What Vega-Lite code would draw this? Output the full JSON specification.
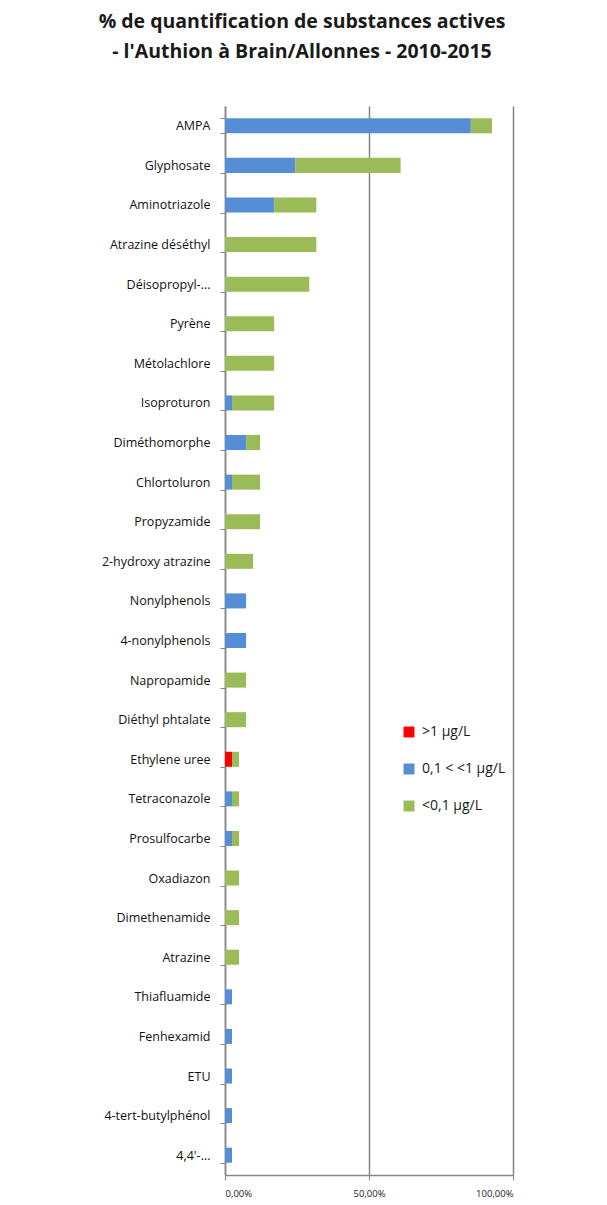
{
  "$schema": "https://vega.github.io/schema/vega-lite/v6.json",
  "autosize": "none",
  "width": 288,
  "height": 1069,
  "padding": {"left": 225, "top": 106, "right": 94, "bottom": 30},
  "background": "white",
  "title": {
    "text": ["% de quantification de substances actives", "- l'Authion à Brain/Allonnes - 2010-2015"],
    "font": "Open Sans",
    "fontSize": 19.5,
    "fontWeight": "bold",
    "color": "#1a1a1a",
    "anchor": "middle",
    "dx": -67,
    "offset": 38,
    "lineHeight": 30
  },
  "data": {
    "values": [
      {"substance": "AMPA", "classe": "0,1 < <1 µg/L", "ord": 2, "pct": 85.37},
      {"substance": "AMPA", "classe": "<0,1 µg/L", "ord": 3, "pct": 7.32},
      {"substance": "Glyphosate", "classe": "0,1 < <1 µg/L", "ord": 2, "pct": 24.39},
      {"substance": "Glyphosate", "classe": "<0,1 µg/L", "ord": 3, "pct": 36.59},
      {"substance": "Aminotriazole", "classe": "0,1 < <1 µg/L", "ord": 2, "pct": 17.07},
      {"substance": "Aminotriazole", "classe": "<0,1 µg/L", "ord": 3, "pct": 14.63},
      {"substance": "Atrazine déséthyl", "classe": "<0,1 µg/L", "ord": 3, "pct": 31.71},
      {"substance": "Déisopropyl-...", "classe": "<0,1 µg/L", "ord": 3, "pct": 29.27},
      {"substance": "Pyrène", "classe": "<0,1 µg/L", "ord": 3, "pct": 17.07},
      {"substance": "Métolachlore", "classe": "<0,1 µg/L", "ord": 3, "pct": 17.07},
      {"substance": "Isoproturon", "classe": "0,1 < <1 µg/L", "ord": 2, "pct": 2.44},
      {"substance": "Isoproturon", "classe": "<0,1 µg/L", "ord": 3, "pct": 14.63},
      {"substance": "Diméthomorphe", "classe": "0,1 < <1 µg/L", "ord": 2, "pct": 7.32},
      {"substance": "Diméthomorphe", "classe": "<0,1 µg/L", "ord": 3, "pct": 4.88},
      {"substance": "Chlortoluron", "classe": "0,1 < <1 µg/L", "ord": 2, "pct": 2.44},
      {"substance": "Chlortoluron", "classe": "<0,1 µg/L", "ord": 3, "pct": 9.76},
      {"substance": "Propyzamide", "classe": "<0,1 µg/L", "ord": 3, "pct": 12.2},
      {"substance": "2-hydroxy atrazine", "classe": "<0,1 µg/L", "ord": 3, "pct": 9.76},
      {"substance": "Nonylphenols", "classe": "0,1 < <1 µg/L", "ord": 2, "pct": 7.32},
      {"substance": "4-nonylphenols", "classe": "0,1 < <1 µg/L", "ord": 2, "pct": 7.32},
      {"substance": "Napropamide", "classe": "<0,1 µg/L", "ord": 3, "pct": 7.32},
      {"substance": "Diéthyl phtalate", "classe": "<0,1 µg/L", "ord": 3, "pct": 7.32},
      {"substance": "Ethylene uree", "classe": ">1 µg/L", "ord": 1, "pct": 2.44},
      {"substance": "Ethylene uree", "classe": "<0,1 µg/L", "ord": 3, "pct": 2.44},
      {"substance": "Tetraconazole", "classe": "0,1 < <1 µg/L", "ord": 2, "pct": 2.44},
      {"substance": "Tetraconazole", "classe": "<0,1 µg/L", "ord": 3, "pct": 2.44},
      {"substance": "Prosulfocarbe", "classe": "0,1 < <1 µg/L", "ord": 2, "pct": 2.44},
      {"substance": "Prosulfocarbe", "classe": "<0,1 µg/L", "ord": 3, "pct": 2.44},
      {"substance": "Oxadiazon", "classe": "<0,1 µg/L", "ord": 3, "pct": 4.88},
      {"substance": "Dimethenamide", "classe": "<0,1 µg/L", "ord": 3, "pct": 4.88},
      {"substance": "Atrazine", "classe": "<0,1 µg/L", "ord": 3, "pct": 4.88},
      {"substance": "Thiafluamide", "classe": "0,1 < <1 µg/L", "ord": 2, "pct": 2.44},
      {"substance": "Fenhexamid", "classe": "0,1 < <1 µg/L", "ord": 2, "pct": 2.44},
      {"substance": "ETU", "classe": "0,1 < <1 µg/L", "ord": 2, "pct": 2.44},
      {"substance": "4-tert-butylphénol", "classe": "0,1 < <1 µg/L", "ord": 2, "pct": 2.44},
      {"substance": "4,4'-...", "classe": "0,1 < <1 µg/L", "ord": 2, "pct": 2.44}
    ]
  },
  "mark": {"type": "bar"},
  "encoding": {
    "y": {
      "field": "substance",
      "type": "nominal",
      "sort": null,
      "scale": {"paddingInner": 0.62, "paddingOuter": 0.31},
      "axis": {
        "title": null,
        "tickBand": "extent",
        "tickSize": 5,
        "tickColor": "#868686",
        "domainColor": "#868686",
        "domainWidth": 1.5,
        "labelFont": "Open Sans",
        "labelFontSize": 12.5,
        "labelColor": "#111111",
        "labelPadding": 10,
        "grid": false
      }
    },
    "x": {
      "field": "pct",
      "type": "quantitative",
      "stack": "zero",
      "scale": {"domain": [0, 100], "nice": false},
      "axis": {
        "title": null,
        "values": [0, 50, 100],
        "labelExpr": "replace(format(datum.value, '.2f'), '.', ',') + '%'",
        "labelFont": "Open Sans",
        "labelFontSize": 9.5,
        "labelColor": "#1a1a1a",
        "labelPadding": 8,
        "grid": true,
        "gridColor": "#868686",
        "gridWidth": 1.5,
        "tickColor": "#868686",
        "tickSize": 5,
        "domainColor": "#868686",
        "domainWidth": 1.5
      }
    },
    "color": {
      "field": "classe",
      "type": "nominal",
      "scale": {
        "domain": [">1 µg/L", "0,1 < <1 µg/L", "<0,1 µg/L"],
        "range": ["#ff0000", "#558ed5", "#9bbb59"]
      },
      "legend": {
        "title": null,
        "orient": "none",
        "legendX": 177,
        "legendY": 619,
        "symbolType": "square",
        "symbolSize": 120,
        "symbolStrokeWidth": 0,
        "labelFont": "Open Sans",
        "labelFontSize": 14,
        "labelColor": "#1a1a1a",
        "rowPadding": 23,
        "labelOffset": 6
      }
    },
    "order": {"field": "ord", "type": "quantitative"}
  },
  "config": {"view": {"stroke": null}}
}
